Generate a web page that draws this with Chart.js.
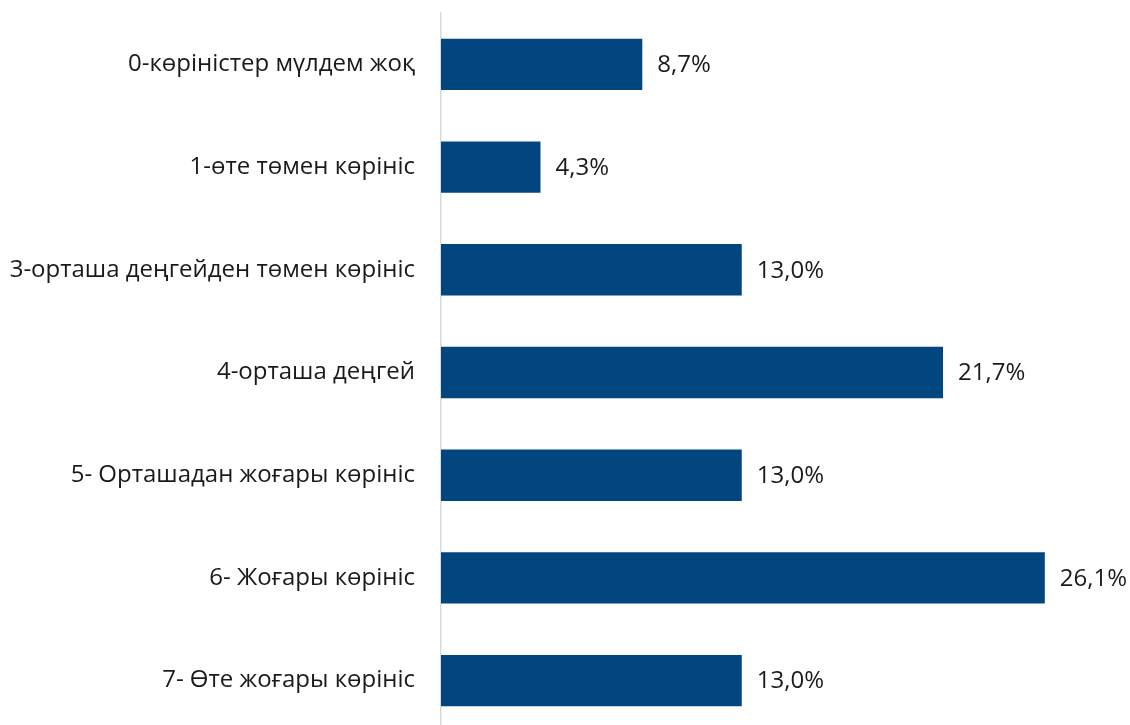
<!DOCTYPE html>
<html>
<head>
<meta charset="utf-8">
<script src="https://cdn.jsdelivr.net/npm/chart.js@4/dist/chart.umd.min.js"></script>
<style>
  html, body { margin: 0; padding: 0; background: #fff; overflow: hidden; }
  #wrap { width: 1130px; height: 740px; position: relative; }
</style>
</head>
<body>
<div id="wrap"><canvas id="chart"></canvas></div>
<script>
const categories = [
  "0-көріністер мүлдем жоқ",
  "1-өте төмен көрініс",
  "3-орташа деңгейден төмен көрініс",
  "4-орташа деңгей",
  "5- Орташадан жоғары көрініс",
  "6- Жоғары көрініс",
  "7- Өте жоғары көрініс"
];
const shares = [8.7, 4.3, 13.0, 21.7, 13.0, 26.1, 13.0];

const BAR_COLOR = "#02467f";
const FONT = "'Open Sans', 'Noto Sans', sans-serif";

const fmtPct = (v) => v.toFixed(1).replace(".", ",") + "%";

// value text to the right of each bar
const valueLabels = {
  id: "valueLabels",
  afterDatasetsDraw(chart) {
    const { ctx } = chart;
    const meta = chart.getDatasetMeta(0);
    ctx.save();
    ctx.font = `24px ${FONT}`;
    ctx.fillStyle = "#1a1a1a";
    ctx.textAlign = "left";
    ctx.textBaseline = "middle";
    meta.data.forEach((bar, i) => {
      ctx.fillText(fmtPct(shares[i]), bar.x + 15, bar.y + 1);
    });
    ctx.restore();
  }
};

new Chart(document.getElementById("chart").getContext("2d"), {
  type: "bar",
  data: {
    labels: categories,
    datasets: [{
      data: shares,
      backgroundColor: BAR_COLOR,
      borderWidth: 0,
      categoryPercentage: 1,
      barPercentage: 0.5
    }]
  },
  options: {
    indexAxis: "y",
    responsive: true,
    maintainAspectRatio: false,
    animation: false,
    layout: { padding: { top: 13, right: 10, bottom: 8, left: 0 } },
    plugins: { legend: { display: false }, tooltip: { enabled: false } },
    scales: {
      x: { display: false, min: 0, max: 29.35 },
      y: {
        afterFit(scale) {
          scale.width = 441;
          scale.paddingTop = 0;
          scale.paddingBottom = 0;
        },
        grid: { display: false, drawTicks: false },
        border: { display: true, color: "#d9d9d9", width: 1.5 },
        ticks: { padding: 26, color: "#1a1a1a", font: { family: FONT, size: 24 } }
      }
    }
  },
  plugins: [valueLabels]
});
</script>
</body>
</html>
